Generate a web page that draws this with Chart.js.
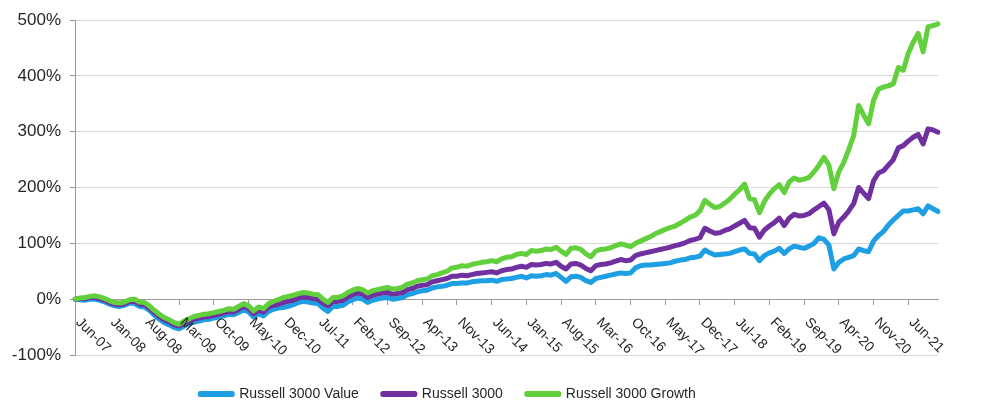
<!DOCTYPE html>
<html>
<head>
<meta charset="utf-8">
<script src="https://cdn.jsdelivr.net/npm/chart.js@4.4.1/dist/chart.umd.min.js"></script>
<style>
  body { margin: 0; background: #fff; }
</style>
</head>
<body>
<canvas id="chart" width="995" height="418"></canvas>
<script>
// cumulative return, %, monthly from Jun-07
const valueSeries = [
    0, -1, -2, 0, 0, -2, -5, -9, -12, -13,
    -11, -7, -8, -13, -14, -20, -29, -36, -42, -46,
    -51, -53, -48, -44, -41, -39, -37, -36, -34, -32,
    -30, -27, -28, -24, -19, -23, -32, -26, -30, -22,
    -18, -16, -15, -13, -10, -6, -4, -5, -7, -8,
    -16, -22, -13, -13, -11, -5, -1, 2, 0, -6,
    -2, 0, 2, 3, 0, 1, 3, 8, 10, 13,
    15, 16, 20, 22, 23, 25, 28, 28, 29, 29,
    31, 32, 33, 33, 34, 32, 35, 36, 37, 39,
    41, 38, 42, 41, 42, 44, 43, 46, 39, 32,
    40, 41, 39, 33, 30, 37, 39, 41, 43, 45,
    47, 46, 47, 56, 60, 61, 61, 62, 63, 64,
    65, 68, 70, 71, 74, 75, 77, 88, 83, 79,
    80, 81, 82, 85, 88, 90, 82, 81, 69, 78,
    83, 86, 91, 82, 90, 95, 93, 91, 95, 100,
    110, 107, 97, 54, 66, 72, 75, 78, 90, 87,
    85, 104, 114, 121, 133, 142, 150, 158, 158, 160,
    162, 153, 167, 162, 157
];
const totalSeries = [
    0, 1, 1, 3, 3, 1, -2, -6, -9, -10,
    -8, -4, -4, -9, -10, -16, -24, -31, -37, -41,
    -46, -48, -43, -39, -36, -34, -32, -31, -29, -27,
    -25, -22, -23, -18, -13, -17, -26, -20, -23, -14,
    -11, -9, -6, -4, -2, 2, 4, 3, 1, 0,
    -7, -12, -4, -4, -2, 4, 8, 11, 9, 3,
    7, 9, 11, 12, 9, 10, 12, 17, 19, 23,
    25, 26, 31, 33, 35, 37, 41, 41, 43, 42,
    44, 46, 47, 48, 49, 47, 51, 53, 54, 57,
    59, 57, 62, 61, 62, 64, 63, 66, 59, 54,
    63, 64, 61, 55, 51, 60, 62, 63, 65, 68,
    71, 69, 70, 78, 81, 83, 85, 87, 89, 91,
    93, 96, 98, 101, 105, 107, 110, 127, 122, 118,
    119, 123, 126, 131, 136, 141, 128, 127, 111, 124,
    131, 137, 145, 132, 145, 152, 149, 150, 153, 160,
    166, 172, 160, 117, 138, 147, 158, 171, 200, 190,
    180, 212, 226, 230, 240, 250, 271, 275, 283, 290,
    295, 278, 305, 303, 299
];
const growthSeries = [
    0, 2, 3, 5, 6, 4, 1, -3, -6, -7,
    -5, -1, 0, -5, -6, -12, -20, -27, -33, -37,
    -42, -45, -39, -35, -31, -29, -27, -26, -24, -22,
    -20, -17, -18, -13, -8, -12, -21, -14, -17, -8,
    -4, -1, 3, 5, 7, 10, 12, 11, 9, 8,
    0, -6, 3, 3, 6, 12, 16, 19, 17, 11,
    15, 17, 19, 21, 18, 19, 21, 27, 29, 33,
    35, 36, 42, 44, 47, 50, 56, 57, 60, 59,
    62, 64, 66, 67, 69, 67, 72, 75, 76, 80,
    82, 80, 87, 86, 87, 90, 89, 93, 86, 80,
    91, 92, 89, 81, 76, 86, 89, 90, 92, 96,
    99, 97, 94, 100, 104, 108, 112, 117, 121, 125,
    128, 131, 136, 141, 147, 150, 158, 177, 170, 164,
    166, 172, 179, 188, 196, 206, 180, 178, 155, 175,
    188, 198, 205, 191, 210, 217, 213, 215, 218, 228,
    240, 254, 240, 198, 228, 245, 268, 293, 347, 330,
    314, 356, 376, 380, 382, 386, 415, 410, 440, 460,
    476, 443, 488, 490, 493
];

const seriesNames = ['Russell 3000 Value', 'Russell 3000', 'Russell 3000 Growth'];

const tickLabels = [
    'Jun-07', 'Jan-08', 'Aug-08', 'Mar-09', 'Oct-09', 'May-10', 'Dec-10',
    'Jul-11', 'Feb-12', 'Sep-12', 'Apr-13', 'Nov-13', 'Jun-14', 'Jan-15',
    'Aug-15', 'Mar-16', 'Oct-16', 'May-17', 'Dec-17', 'Jul-18', 'Feb-19',
    'Sep-19', 'Apr-20', 'Nov-20', 'Jun-21'
];
const yTicks = [-100, 0, 100, 200, 300, 400, 500];

// month categories, one per data point, starting Jun-07
const monthNames = ['Jan', 'Feb', 'Mar', 'Apr', 'May', 'Jun', 'Jul', 'Aug', 'Sep', 'Oct', 'Nov', 'Dec'];
const months = [];
for (let i = 0; i < valueSeries.length; i++) {
    const n = 5 + i;
    const yy = String(2007 + Math.floor(n / 12)).slice(2);
    months.push(monthNames[n % 12] + '-' + yy);
}

const textColor = '#262626';
const axisColor = '#9a9a9a';
const fontFamily = '"Liberation Sans", Arial, sans-serif';

// Excel style labels: start at the tick, run down to the right
const slantedLabels = {
    id: 'slantedLabels',
    afterLayout(chart) {
        // legend sits a bit left of centre and lower than chart.js puts it
        const lg = chart.legend;
        lg.right -= 42;
        lg.top += 8;
        lg.bottom += 8;
    },
    afterDraw(chart) {
        const { ctx, scales: { x, y } } = chart;
        const y0 = y.getPixelForValue(0);
        ctx.save();
        ctx.font = '14px ' + fontFamily;
        ctx.fillStyle = textColor;
        ctx.textAlign = 'left';
        ctx.textBaseline = 'middle';
        tickLabels.forEach(label => {
            const px = x.getPixelForValue(months.indexOf(label));
            ctx.save();
            ctx.translate(px + 3, y0 + 21);
            ctx.rotate(Math.PI / 4);
            ctx.fillText(label, 0, 0);
            ctx.restore();
        });
        ctx.restore();
    }
};

new Chart(document.getElementById('chart'), {
    type: 'line',
    data: {
        labels: months,
        datasets: [
            { label: seriesNames[0], data: valueSeries, borderColor: '#1e9fe3', backgroundColor: '#1e9fe3', order: 2 },
            { label: seriesNames[1], data: totalSeries, borderColor: '#7030a0', backgroundColor: '#7030a0', order: 1 },
            { label: seriesNames[2], data: growthSeries, borderColor: '#62cf3c', backgroundColor: '#62cf3c', order: 0 }
        ]
    },
    options: {
        responsive: false,
        animation: false,
        devicePixelRatio: 1,
        layout: { padding: { top: 20, right: 57, bottom: 15, left: 0 } },
        elements: {
            line: { borderWidth: 5, tension: 0, borderJoinStyle: 'round', borderCapStyle: 'round' },
            point: { radius: 0 }
        },
        scales: {
            x: {
                position: { y: 0 },
                offset: false,
                grid: {
                    drawOnChartArea: false,
                    drawTicks: true,
                    tickLength: 5,
                    color: c => tickLabels.includes(months[c.index]) ? axisColor : 'transparent'
                },
                border: { color: axisColor, width: 1 },
                ticks: { display: false },
                afterFit(scale) {
                    scale.height = 18;
                    scale.paddingLeft = 0;
                    scale.paddingRight = 0;
                }
            },
            y: {
                min: -100,
                max: 500,
                afterBuildTicks(scale) {
                    scale.ticks = yTicks.map(v => ({ value: v }));
                },
                grid: { color: '#d9d9d9', tickColor: axisColor, tickLength: 5 },
                border: { color: axisColor, width: 1 },
                ticks: {
                    padding: 9,
                    color: textColor,
                    font: { family: fontFamily, size: 17 },
                    callback: v => v + '%'
                },
                afterFit(scale) {
                    scale.width = 75;
                    scale.paddingTop = 0;
                    scale.paddingBottom = 0;
                }
            }
        },
        plugins: {
            legend: {
                position: 'bottom',
                labels: {
                    boxWidth: 32,
                    boxHeight: 1,
                    padding: 24,
                    color: textColor,
                    font: { family: fontFamily, size: 14 },
                    sort: (a, b) => a.datasetIndex - b.datasetIndex
                }
            },
            tooltip: { enabled: false }
        }
    },
    plugins: [slantedLabels]
});
</script>
</body>
</html>
